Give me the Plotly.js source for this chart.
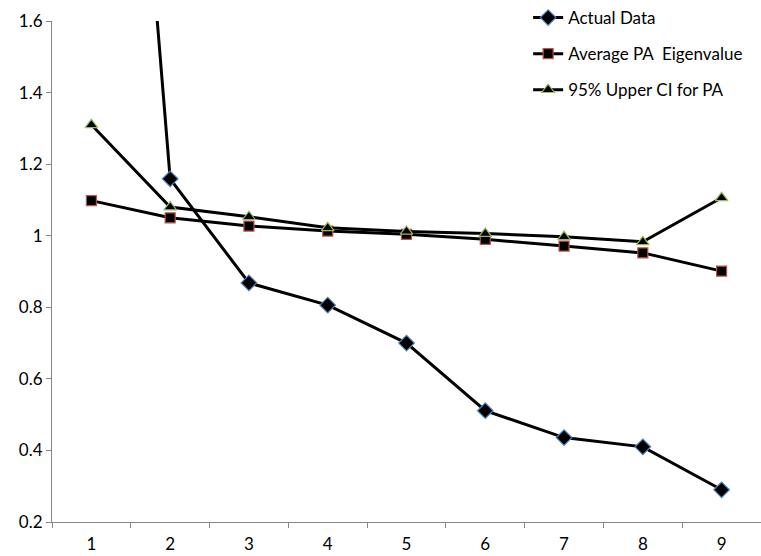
<!DOCTYPE html>
<html>
<head>
<meta charset="utf-8">
<script src="https://cdn.plot.ly/plotly-3.0.1.min.js"></script>
<style>html,body{margin:0;padding:0;background:#fff;}#chart{width:761px;height:556px;}</style>
</head>
<body>
<div id="chart"></div>
<script>
var categories = ["1", "2", "3", "4", "5", "6", "7", "8", "9"];
var actualData = [3.85, 1.159, 0.868, 0.806, 0.700, 0.511, 0.436, 0.410, 0.290];
var averagePA = [1.098, 1.050, 1.027, 1.013, 1.004, 0.990, 0.971, 0.952, 0.901];
var upperCI = [1.310, 1.080, 1.053, 1.022, 1.012, 1.006, 0.997, 0.983, 1.106];
var seriesNames = ["Actual Data", "Average PA\u00a0 Eigenvalue", "95% Upper CI for PA"];

var fontFam = "Lato, 'Open Sans', sans-serif";
function trace(y, name, symbol, size, outline, grp) {
  return {
    x: categories, y: y, name: name, type: "scatter", mode: "lines+markers",
    legendgroup: grp,
    line: {color: "#000000", width: 3},
    marker: {symbol: symbol, size: size, color: "#000000", line: {color: outline, width: 1.2}},
    cliponaxis: true
  };
}
var data = [
  trace(actualData, seriesNames[0], "diamond", 12, "#4F81BD", "a"),
  trace(averagePA, seriesNames[1], "square", 10, "#C0504D", "b"),
  trace(upperCI, seriesNames[2], "triangle-up", 11, "#9BBB59", "c")
];
var layout = {
  width: 761, height: 556,
  margin: {l: 52, r: 0, t: 21, b: 34, pad: 0, autoexpand: false},
  paper_bgcolor: "#ffffff", plot_bgcolor: "#ffffff",
  font: {family: fontFam, size: 17, color: "#000000"},
  showlegend: true,
  legend: {
    xref: "container", yref: "container", x: 0.694, y: 1.0, xanchor: "left", yanchor: "top",
    tracegroupgap: 11, font: {family: fontFam, size: 17, color: "#000000"},
    bgcolor: "rgba(0,0,0,0)"
  },
  xaxis: {
    type: "category", tickson: "boundaries", ticks: "outside", ticklen: 5, tickwidth: 1,
    tickcolor: "#868686", showline: true, linecolor: "#868686", linewidth: 1,
    showgrid: false, zeroline: false, range: [-0.5, 8.5], fixedrange: true,
    ticklabelstandoff: 7,
    tickfont: {family: fontFam, size: 17, color: "#000000"}
  },
  yaxis: {
    range: [0.2, 1.6], tickmode: "array",
    tickvals: [0.2, 0.4, 0.6, 0.8, 1, 1.2, 1.4, 1.6],
    ticktext: ["0.2", "0.4", "0.6", "0.8", "1", "1.2", "1.4", "1.6"],
    ticks: "outside", ticklen: 5, tickwidth: 1, tickcolor: "#868686",
    showline: true, linecolor: "#868686", linewidth: 1, showgrid: false, zeroline: false,
    tickfont: {family: fontFam, size: 17, color: "#000000"}
  }
};
Plotly.newPlot("chart", data, layout, {staticPlot: true, displayModeBar: false});
</script>
</body>
</html>
